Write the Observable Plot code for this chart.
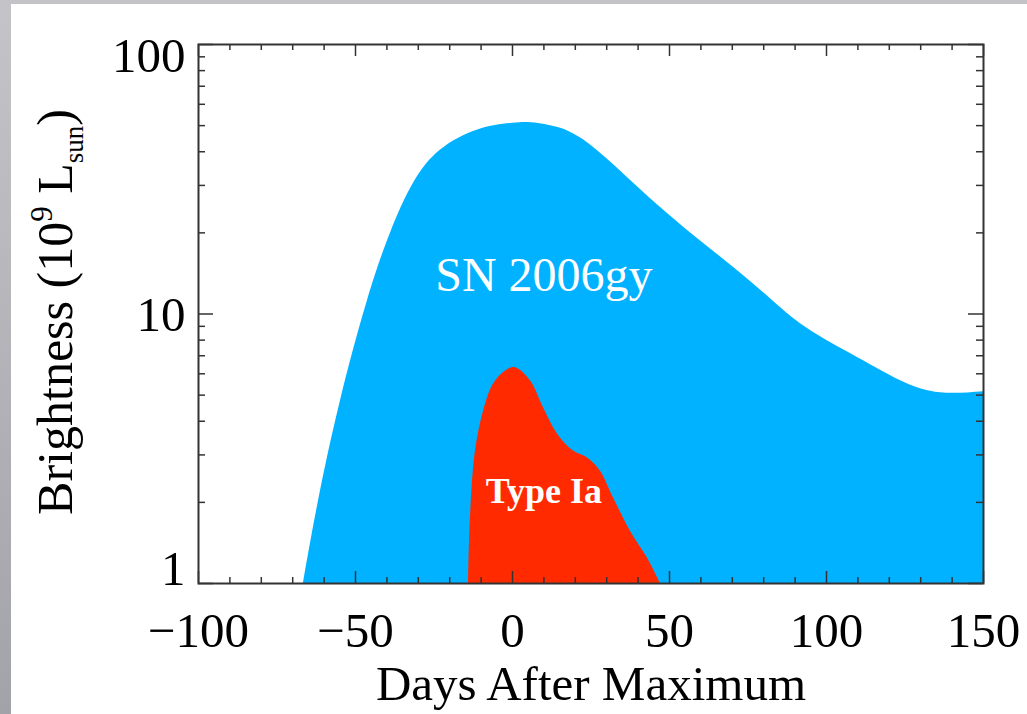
<!DOCTYPE html>
<html><head><meta charset="utf-8">
<script src="https://cdn.jsdelivr.net/npm/d3@7"></script>
<script src="https://cdn.jsdelivr.net/npm/@observablehq/plot@0.6"></script>
<style>
html,body{margin:0;padding:0;width:1027px;height:714px;overflow:hidden;background:linear-gradient(180deg,#c4c4c8,#a2a2a9);}
#card{position:absolute;left:11px;top:4px;right:0;bottom:0;background:#fff;}
#chart{position:absolute;left:0;top:0;}
</style></head><body><div id="card"></div><div id="chart"></div>
<script>
// SN 2006gy light curve (days after maximum, brightness in 1e9 Lsun)
const snDays = [-66.6, -61.8, -54.8, -46.2, -38.9, -31.5, -22.9, -11.1, 0, 6, 12.1, 22.6, 38.5, 54.5, 75.8, 91.7, 107.6, 123.6, 136.3, 150];
const snLum  = [1, 2.02, 4.76, 11.2, 19.9, 30.6, 40.6, 48.2, 51, 51.2, 50, 44.3, 30.6, 21.0, 13.2, 9.2, 7.13, 5.65, 5.1, 5.15];
// Type Ia light curve
const iaDays = [-14.0, -13.4, -11.8, -9.2, -6.0, -2, 1.0, 5.7, 9.9, 14.3, 19.4, 23.9, 28.0, 32.2, 37.6, 43.0, 47.1];
const iaLum  = [1, 1.75, 3.1, 4.37, 5.51, 6.17, 6.32, 5.65, 4.48, 3.59, 3.1, 2.92, 2.61, 2.07, 1.56, 1.24, 1];
// Labels
const seriesLabels = ["SN 2006gy", "Type Ia"];
const labelDays = [10, 10];
const labelLum = [13.9, 2.2];
// Ticks
const xMajor = [-100, -50, 0, 50, 100, 150];
const xMinor = [-90, -80, -70, -60, -40, -30, -20, -10, 10, 20, 30, 40, 60, 70, 80, 90, 110, 120, 130, 140];
const yMajor = [1, 10, 100];
const yMinor = [2, 3, 4, 5, 6, 7, 8, 9, 20, 30, 40, 50, 60, 70, 80, 90];
const yLabelShift = [-14, 1, 12];
const xTitle = "Days After Maximum";

const sn = snDays.map((d, i) => ({day: d, lum: snLum[i]}));
const ia = iaDays.map((d, i) => ({day: d, lum: iaLum[i]}));

const W = 1027, H = 714, mL = 198, mR = 44, mT = 44, mB = 131;
const innerW = W - mL - mR, innerH = H - mT - mB;
const blue = "#00b2ff", red = "#ff2a00", ink = "#333";
const serif = "'Liberation Serif', 'Times New Roman', serif";
const fmt = d => d < 0 ? "\u2212" + Math.abs(d) : String(d);

const marks = [
  Plot.areaY(sn, {x: "day", y1: 1, y2: "lum", fill: blue, curve: "natural", clip: true}),
  Plot.areaY(ia, {x: "day", y1: 1, y2: "lum", fill: red, curve: "catmull-rom", clip: true}),
  Plot.text([0], {x: labelDays[0], y: labelLum[0], text: () => seriesLabels[0], fill: "white", fontSize: 48, fontFamily: serif}),
  Plot.text([0], {x: labelDays[1], y: labelLum[1], text: () => seriesLabels[1], fill: "white", fontSize: 36, fontWeight: "bold", fontFamily: serif}),
  // inward ticks: bottom / top
  Plot.tickX(xMinor, {x: d => d, insetTop: innerH - 6, stroke: ink, strokeWidth: 1.5}),
  Plot.tickX(xMinor, {x: d => d, insetBottom: innerH - 6, stroke: ink, strokeWidth: 1.5}),
  Plot.tickX(xMajor, {x: d => d, insetTop: innerH - 12, stroke: ink, strokeWidth: 1.5}),
  Plot.tickX(xMajor, {x: d => d, insetBottom: innerH - 12, stroke: ink, strokeWidth: 1.5}),
  // inward ticks: left / right
  Plot.tickY(yMinor, {y: d => d, insetRight: innerW - 7, stroke: ink, strokeWidth: 1.5}),
  Plot.tickY(yMinor, {y: d => d, insetLeft: innerW - 7, stroke: ink, strokeWidth: 1.5}),
  Plot.tickY(yMajor, {y: d => d, insetRight: innerW - 15, stroke: ink, strokeWidth: 1.5}),
  Plot.tickY(yMajor, {y: d => d, insetLeft: innerW - 15, stroke: ink, strokeWidth: 1.5}),
  Plot.frame({stroke: ink, strokeWidth: 2}),
  Plot.axisX({ticks: xMajor, tickSize: 0, tickPadding: 29, fontSize: 49, fontFamily: serif, tickFormat: fmt, label: null, fill: "black"}),
  ...yMajor.map((v, i) => Plot.axisY({ticks: [v], tickSize: 0, tickPadding: 13, dy: yLabelShift[i], fontSize: 49, fontFamily: serif, tickFormat: fmt, label: null, fill: "black"})),
  Plot.text([xTitle], {frameAnchor: "bottom", lineAnchor: "middle", dy: 101, fontSize: 49, fontFamily: serif, fill: "black"})
];

const chart = Plot.plot({
  width: W, height: H,
  marginLeft: mL, marginRight: mR, marginTop: mT, marginBottom: mB,
  style: {background: "transparent", fontFamily: serif, color: "black"},
  x: {domain: [-100, 150]},
  y: {type: "log", domain: [1, 100]},
  marks
});
document.getElementById("chart").appendChild(chart);

// Y-axis title with superscript and subscript
const svg = d3.select(chart);
const t = svg.append("text")
  .attr("transform", "translate(72,312) rotate(-90)")
  .attr("text-anchor", "middle")
  .attr("font-family", serif)
  .attr("font-size", 50)
  .attr("fill", "black");
t.append("tspan").text("Brightness (10");
t.append("tspan").attr("font-size", 31).attr("dy", -20).text("9");
t.append("tspan").attr("dy", 20).text(" L");
t.append("tspan").attr("font-size", 27).attr("dy", 11).text("sun");
t.append("tspan").attr("dy", -11).text(")");
</script></body></html>
